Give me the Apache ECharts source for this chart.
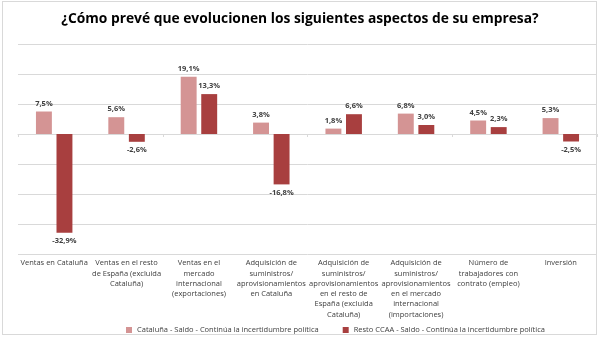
<!DOCTYPE html>
<html>
<head>
<meta charset="utf-8">
<script src="https://cdn.jsdelivr.net/npm/echarts@6/dist/echarts.min.js"></script>
<style>
  html, body { margin: 0; padding: 0; background: #fff; }
  #chart { width: 600px; height: 338px; }
  #frame { position: absolute; left: 2px; top: 1px; width: 595px; height: 334px; border: 1px solid #d9d9d9; pointer-events: none; box-sizing: border-box; }
</style>
</head>
<body>
<div id="chart"></div>
<div id="frame"></div>
<script>
// Categories (business aspects)
const categories = [
  'Ventas en Cataluña',
  'Ventas en el resto\nde España (excluida\nCataluña)',
  'Ventas en el\nmercado\ninternacional\n(exportaciones)',
  'Adquisición de\nsuministros/\naprovisionamientos\nen Cataluña',
  'Adquisición de\nsuministros/\naprovisionamientos\nen el resto de\nEspaña (excluida\nCataluña)',
  'Adquisición de\nsuministros/\naprovisionamientos\nen el mercado\ninternacional\n(importaciones)',
  'Número de\ntrabajadores con\ncontrato (empleo)',
  'Inversión'
];

// Balance (%) by region
const cataluna = [7.5, 5.6, 19.1, 3.8, 1.8, 6.8, 4.5, 5.3];
const restoCCAA = [-32.9, -2.6, 13.3, -16.8, 6.6, 3.0, 2.3, -2.5];

const seriesNames = [
  'Cataluña - Saldo - Continúa la incertidumbre política',
  'Resto CCAA - Saldo - Continúa la incertidumbre política'
];

const font = '"Open Sans", "Noto Sans", sans-serif';
const fmt = p => p.value.toFixed(1).replace('.', ',') + '%';

const labelStyle = {
  show: true,
  formatter: fmt,
  fontFamily: font,
  fontSize: 7.5,
  fontWeight: 'bold',
  color: '#404040',
  distance: 4
};

function barData(values) {
  return values.map(v => ({
    value: v,
    label: { position: v >= 0 ? 'top' : 'bottom' }
  }));
}

const chart = echarts.init(document.getElementById('chart'), null, { renderer: 'canvas' });
chart.setOption({
  animation: false,
  title: {
    text: '¿Cómo prevé que evolucionen los siguientes aspectos de su empresa?',
    left: 'center',
    top: 7,
    textStyle: { fontFamily: font, fontSize: 13.8, fontWeight: 'bold', color: '#000' }
  },
  legend: {
    top: 321,
    left: 121,
    itemWidth: 6,
    itemHeight: 6,
    itemGap: 24,
    icon: 'rect',
    textStyle: { fontFamily: font, fontSize: 7.5, color: '#404040' },
    data: seriesNames
  },
  grid: { left: 18, right: 3, top: 44, bottom: 84 },
  xAxis: [
    {
      type: 'category',
      data: categories,
      position: 'bottom',
      axisLine: { show: false, onZero: false },
      axisTick: { show: false },
      axisLabel: {
        interval: 0,
        fontFamily: font,
        fontSize: 7.5,
        lineHeight: 10.3,
        color: '#404040',
        margin: 4
      }
    },
    {
      type: 'category',
      data: categories,
      position: 'bottom',
      axisLine: { show: true, onZero: true, lineStyle: { color: '#d9d9d9', width: 1 } },
      axisTick: { show: true, length: 3, lineStyle: { color: '#d9d9d9' } },
      axisLabel: { show: false }
    }
  ],
  yAxis: {
    type: 'value',
    min: -40,
    max: 30,
    interval: 10,
    axisLabel: { show: false },
    axisLine: { show: false },
    axisTick: { show: false },
    splitLine: { lineStyle: { color: '#d9d9d9', width: 1 } }
  },
  series: [
    {
      name: seriesNames[0],
      type: 'bar',
      data: barData(cataluna),
      barWidth: '22%',
      barGap: '29%',
      itemStyle: { color: '#d49494' },
      label: labelStyle
    },
    {
      name: seriesNames[1],
      type: 'bar',
      data: barData(restoCCAA),
      barWidth: '22%',
      itemStyle: { color: '#a83f3f' },
      label: labelStyle
    }
  ]
});
</script>
</body>
</html>
